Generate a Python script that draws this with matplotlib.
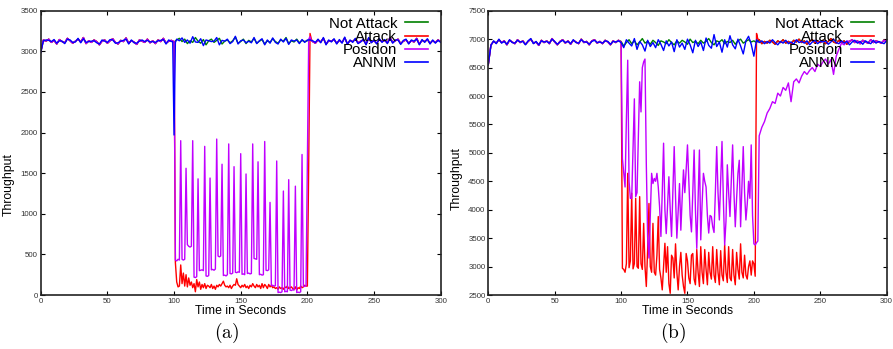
import matplotlib.pyplot as plt
from matplotlib.lines import Line2D

plt.rcParams['font.family'] = ['Liberation Sans', 'DejaVu Sans']
plt.rcParams['mathtext.fontset'] = 'cm'

# ------------------------------------------------------------
# data
# baselines are sampled every 2 s, attack windows every 1 s
# ------------------------------------------------------------
series_names = ['Not Attack', 'Attack', 'Posidon', 'ANNM']
series_colors = ['#008000', '#ff0000', '#c000ff', '#0000ff']

t_coarse = list(range(0, 301, 2))
t_mid = list(range(100, 204))

# ---- panel (a) ----
a_not_attack = [
    2990,
    3140, 3125, 3150, 3110, 3135, 3090, 3145, 3120, 3105, 3160,
    3130, 3100, 3125, 3150, 3115, 3170, 3095, 3130, 3110, 3140,
    3120, 3080, 3125, 3140, 3100, 3130, 3155, 3110, 3090, 3135,
    3120, 3165, 3100, 3130, 3115, 3085, 3140, 3125, 3110, 3150,
    3105, 3130, 3095, 3140, 3120, 3160, 3100, 3125, 3135,
    3115, 3140, 3160, 3120, 3150, 3095, 3130, 3110, 3170, 3125,
    3100, 3145, 3080, 3130, 3150, 3110, 3135, 3160, 3090, 3125,
    3140, 3105, 3130, 3175, 3100, 3120, 3150, 3095, 3135, 3115,
    3160, 3100, 3125, 3145, 3090, 3130, 3110, 3155, 3120, 3100,
    3140, 3125, 3170, 3095, 3130, 3115, 3150, 3105, 3135, 3120,
    3130, 3150, 3120, 3100, 3140, 3115, 3160, 3090, 3130, 3125,
    3145, 3100, 3135, 3110, 3165, 3095, 3130, 3120, 3150, 3105,
    3125, 3140, 3090, 3160, 3115, 3130, 3100, 3145, 3120, 3135,
    3105, 3170, 3110, 3130, 3150, 3095, 3125, 3140, 3100, 3130,
    3115, 3160, 3090, 3135, 3120, 3145, 3100, 3130, 3110, 3140,
    3120,
]

a_attack_mid = [
    3120, 400, 160, 100, 110, 370, 140, 270, 110, 250,
    100, 210, 120, 160, 90, 140, 40, 190, 100, 160,
    70, 130, 90, 140, 80, 120, 110, 90, 130, 80,
    110, 70, 120, 100, 130, 110, 140, 170, 120, 100,
    110, 90, 120, 80, 110, 130, 120, 200, 130, 110,
    90, 120, 100, 130, 90, 110, 80, 120, 100, 140,
    110, 90, 130, 100, 120, 80, 140, 90, 130, 110,
    80, 130, 100, 120, 90, 100, 80, 90, 70, 100,
    80, 90, 70, 100, 90, 110, 80, 90, 100, 80,
    70, 100, 60, 90, 80, 110, 90, 100, 120, 110,
    110, 1600, 3220, 3150,
]

a_posidon_mid = [
    3120, 430, 420, 440, 430, 1900, 440, 430, 440, 1560,
    620, 600, 590, 600, 1900, 220, 215, 225, 1430, 300,
    305, 310, 300, 1830, 235, 230, 240, 1440, 310, 315,
    305, 320, 1920, 480, 470, 480, 1610, 240, 245, 235,
    250, 1860, 265, 260, 270, 1580, 280, 275, 285, 280,
    1740, 255, 260, 250, 1490, 265, 270, 260, 265, 1860,
    450, 445, 440, 1640, 250, 255, 245, 250, 1890, 305,
    300, 310, 1140, 115, 120, 110, 115, 1650, 30, 35,
    30, 40, 1280, 40, 45, 40, 1420, 60, 55, 65,
    60, 1340, 30, 35, 30, 40, 1730, 110, 105, 115,
    1600, 3150, 3180, 3130,
]

a_annm_pre = [
    2980, 3130, 3140, 3135, 3120, 3145, 3100, 3130, 3125, 3095, 3150,
    3140, 3110, 3115, 3160, 3105, 3155, 3110, 3120, 3125, 3130,
    3105, 3090, 3140, 3125, 3110, 3145, 3140, 3100, 3105, 3125,
    3135, 3150, 3090, 3140, 3105, 3100, 3125, 3140, 3120, 3135,
    3115, 3120, 3110, 3130, 3135, 3145, 3090, 3140, 3120,
]
a_annm_dip_t = [99, 100, 101]
a_annm_dip = [3120, 1970, 3110]
a_annm_post = [
    3150, 3130, 3165, 3110, 3140, 3100, 3180, 3115,
    3110, 3155, 3070, 3140, 3130, 3120, 3125, 3170, 3080, 3135,
    3125, 3150, 3095, 3120, 3185, 3090, 3130, 3140, 3105, 3125,
    3105, 3170, 3095, 3130, 3155, 3080, 3140, 3100, 3165, 3110,
    3090, 3150, 3115, 3160, 3085, 3140, 3125, 3140, 3095, 3145,
    3110, 3140, 3140, 3130, 3110, 3150, 3105, 3170, 3080, 3140,
    3115, 3155, 3090, 3145, 3100, 3175, 3085, 3140, 3110, 3160,
    3095, 3115, 3150, 3080, 3170, 3105, 3140, 3090, 3155, 3110,
    3145, 3095, 3160, 3100, 3140, 3140, 3085, 3135, 3150, 3090,
    3140, 3125, 3150, 3080, 3145, 3110, 3155, 3090, 3140, 3100,
    3135, 3110,
]

# ---- panel (b) ----
b_not_attack = [
    6550, 6900, 6960, 6930, 6990, 6940, 6970, 6900, 6980, 6950, 6920,
    6990, 6940, 6970, 6910, 6960, 7000, 6930, 6950, 6890, 6980,
    6940, 6970, 6920, 7010, 6950, 6900, 6960, 6990, 6930, 6970,
    6910, 6980, 6950, 6920, 7000, 6940, 6960, 6900, 6970, 6990,
    6930, 6960, 6920, 6980, 6950, 6900, 6970, 6940, 6980,
    6960, 6880, 6940, 6990, 6920, 6970, 6900, 6950, 7010, 6930,
    6960, 6910, 6980, 6940, 6890, 6970, 6950, 6920, 6990, 6940,
    6900, 6970, 6930, 6980, 6950, 6910, 7000, 6940, 6960, 6920,
    6980, 6930, 6960, 7010, 6940, 6900, 6970, 6950, 6990, 6920,
    6960, 6940, 6980, 6910, 6970, 7000, 6930, 6960, 6990, 6950,
    6970, 6940, 6990, 6920, 6960, 6930, 6980, 6950, 6910, 6970,
    6940, 6990, 6930, 6960, 6920, 6980, 6950, 7000, 6940, 6970,
    6910, 6960, 6990, 6930, 6970, 6940, 6980, 6920, 6960, 7010,
    6950, 6930, 6980, 6940, 6970, 6910, 6960, 6990, 6940, 6970,
    6920, 6980, 6950, 6930, 6990, 6940, 6970, 6950, 6930, 6980,
    6960,
]

b_attack_mid = [
    6950, 2970, 2950, 2900, 3050, 4640, 2980, 3100, 4290, 2960,
    3050, 4200, 3000, 2970, 4230, 3050, 2950, 3760, 3000, 2650,
    3300, 4110, 3000, 2900, 3760, 2900, 2850, 3200, 3880, 2950,
    2800, 2590, 3000, 3410, 2900, 3350, 2700, 2530, 3200, 3150,
    2800, 3400, 2900, 2590, 3000, 3250, 2850, 2650, 2530, 3230,
    3100, 2800, 2700, 3200, 3230, 2780, 2680, 3300, 2900, 2650,
    3350, 2900, 2700, 3300, 2950, 2680, 3250, 2900, 2780, 3350,
    2850, 2720, 3300, 2900, 2680, 3280, 2850, 2750, 3380, 2900,
    2720, 3350, 2800, 2750, 3300, 2850, 2680, 3250, 2950, 2780,
    3400, 2900, 2800, 3200, 2850, 2780, 3000, 3100, 2850, 3100,
    3050, 2830, 7100, 7000,
]

b_posidon_mid = [
    6950, 4900, 4640, 4400, 5600, 6630, 4500, 4200, 4200, 5100,
    5950, 4230, 4300, 5300, 6250, 5720, 6500, 6600, 6650, 4800,
    3520, 3150, 3900, 4640, 4460, 4550, 4500, 4640, 4400, 4050,
    3530, 4300, 5170, 4000, 3580, 4100, 4580, 4000, 3530, 4300,
    5110, 4230, 3500, 4000, 4460, 3640, 4200, 4700, 4300, 4700,
    5140, 4520, 3900, 3610, 4300, 5050, 4000, 3320, 4200, 5050,
    3470, 4100, 4640, 4500, 4400, 3900, 3590, 3900, 3880, 3700,
    3600, 4300, 5110, 4300, 3820, 4500, 5200, 4200, 3380, 3800,
    4790, 4300, 3880, 4500, 5140, 4300, 3700, 4200, 4640, 4870,
    3700, 4400, 5110, 4300, 3820, 4100, 4500, 4200, 5140, 3900,
    3400, 3380, 3420, 3450,
]
# slow climb back after the attack, t = 204..270
b_posidon_recover = [
    5300, 5450, 5550, 5700, 5780, 5900, 5870, 6050, 6000, 6150,
    6100, 6230, 5900, 6250, 6300, 6230, 6350, 6430, 6380, 6450,
    6500, 6430, 6560, 6520, 6600, 6650, 6560, 6640, 6380, 6700,
    6820, 6930, 6900, 6970,
]

b_annm = [
    6560, 6890, 6970, 6920, 7000, 6930, 6960, 6910, 6990, 6940, 6930,
    6980, 6950, 6960, 6900, 6970, 7010, 6920, 6960, 6900, 6970,
    6950, 6960, 6930, 7000, 6960, 6910, 6950, 6980, 6940, 6960,
    6920, 6990, 6940, 6930, 6990, 6950, 6950, 6910, 6960, 6980,
    6940, 6950, 6930, 6970, 6960, 6910, 6960, 6950, 6970,
    6940, 6850, 6990, 6930, 6880, 7010, 6820, 6960, 6900, 6790,
    6980, 6870, 6940, 6850, 6990, 6910, 6800, 6970, 6880, 6950,
    6780, 6990, 6860, 6930, 6820, 7000, 6900, 6760, 6980, 6870,
    6950, 6800, 7020, 6890, 6840, 7080, 6870, 6950, 6770, 6990,
    6860, 7060, 6900, 6830, 7000, 6880, 6740, 6970, 7050, 6910,
    6700,
    6990, 6940, 6970, 6920, 6960, 6930, 6990, 6940, 6900, 6960,
    6930, 6980, 6920, 6950, 6910, 6990, 6940, 6960, 6930, 6970,
    6900, 6950, 6980, 6920, 6960, 6950, 6970, 6910, 6950, 7000,
    6940, 6920, 6970, 6930, 6960, 6900, 6950, 6980, 6930, 6960,
    6910, 6970, 6940, 6920, 6980, 6930, 6960, 6940, 6920, 6970,
]

# ------------------------------------------------------------
# assemble the full traces
# ------------------------------------------------------------
pre = slice(0, 50)        # t = 0..98
post = slice(102, None)   # t = 204..300

a_series = [
    (t_coarse, a_not_attack),
    (t_coarse[pre] + t_mid + t_coarse[post],
     a_not_attack[pre] + a_attack_mid + a_not_attack[post]),
    (t_coarse[pre] + t_mid + t_coarse[post],
     a_not_attack[pre] + a_posidon_mid + a_not_attack[post]),
    (t_coarse[pre] + a_annm_dip_t + t_coarse[51:],
     a_annm_pre + a_annm_dip + a_annm_post),
]

b_series = [
    (t_coarse, b_not_attack),
    (t_coarse[pre] + t_mid + t_coarse[post],
     b_not_attack[pre] + b_attack_mid + b_not_attack[post]),
    (t_coarse[pre] + t_mid + t_coarse[102:136] + t_coarse[136:],
     b_not_attack[pre] + b_posidon_mid + b_posidon_recover + b_not_attack[136:]),
    (t_coarse, b_annm),
]

# ------------------------------------------------------------
# figure
# ------------------------------------------------------------
fig = plt.figure(figsize=(8.93, 3.49), dpi=100)
ax_a = fig.add_axes([0.0456, 0.1547, 0.4479, 0.8146])
ax_b = fig.add_axes([0.5468, 0.1547, 0.4461, 0.8146])


def style_panel(ax, series, ylim, ylabel_y, tag, tag_x):
    for (t, v), c in zip(series, series_colors):
        ax.plot(t, v, color=c, lw=1.0)
    ax.set_xlim(0, 300)
    ax.set_ylim(*ylim)
    ax.set_xticks(range(0, 301, 50))
    ax.set_yticks(range(ylim[0], ylim[1] + 1, 500))
    ax.tick_params(direction='in', top=True, right=True, length=3, width=0.8,
                   labelsize=5.7, pad=2, labelcolor='#333333')
    for s in ax.spines.values():
        s.set_linewidth(1.2)
        s.set_color('#222222')
    ax.set_xlabel('Time in Seconds', fontsize=8.8, labelpad=0)
    ax.set_ylabel('Throughput', fontsize=8.8)
    ax.yaxis.set_label_coords(-0.064, ylabel_y)

    # gnuplot-style key: text to the left of the sample, rows packed tightly
    handles = [Line2D([], [], color=c, lw=1.2) for c in series_colors]
    ax.legend(handles, series_names, loc='upper right',
              bbox_to_anchor=(0.968, 0.979), frameon=False, markerfirst=False,
              fontsize=10.8, handlelength=1.5, handletextpad=0.55,
              labelspacing=-0.05, borderaxespad=0, borderpad=0)

    fig.text(tag_x, 0.046, r'$\mathrm{' + tag + '}$', ha='center', va='center',
             fontsize=14)


style_panel(ax_a, a_series, (0, 3500), 0.39, '(a)', 0.2531)
style_panel(ax_b, b_series, (2500, 7500), 0.41, '(b)', 0.7536)

fig.savefig('out.png', dpi=100)
